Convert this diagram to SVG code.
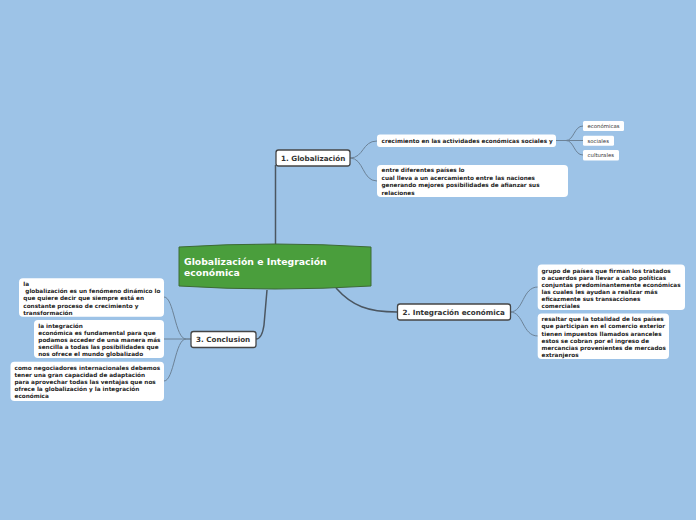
<svg xmlns="http://www.w3.org/2000/svg" width="696" height="520" viewBox="0 0 696 520">
<style>
.bg{fill:#9dc3e7}
.main{fill:#4a9e3c;stroke:#3d6a36;stroke-width:1}
.mt{font-family:"DejaVu Sans",Verdana,sans-serif;font-weight:bold;font-size:9.3px;fill:#ffffff}
.br{fill:#ffffff;stroke:#454545;stroke-width:1.3}
.bt{font-family:"DejaVu Sans",Verdana,sans-serif;font-weight:bold;font-size:7.2px;fill:#333333}
.note{fill:#ffffff}
.nt{font-family:"DejaVu Sans",Verdana,sans-serif;font-weight:bold;font-size:5.72px;fill:#222222}
.st{font-family:"DejaVu Sans",Verdana,sans-serif;font-size:5.4px;fill:#333333}
.c1{fill:none;stroke:#4b5661;stroke-width:1.5}
.c2{fill:none;stroke:#6c8297;stroke-width:1}
</style>
<rect class="bg" x="0" y="0" width="696" height="520"/>
<g id="connectors">
<path class="c1" d="M275.5,244 V165"/>
<path class="c1" d="M267,290 L264,325 Q262,339 256,339"/>
<path class="c1" d="M336,288 C352,306 368,312 397,312"/>
<path class="c2" d="M350,158 C364,158 362,141 377,141"/>
<path class="c2" d="M350,158 C364,158 362,181 377,181"/>
<path class="c2" d="M556,140.5 L566,140.5 C574,140.5 574,126 583,126"/>
<path class="c2" d="M556,140.5 L583,140.5"/>
<path class="c2" d="M556,140.5 L566,140.5 C574,140.5 574,155 583,155"/>
<path class="c2" d="M510,312 C524,312 522,287 538,287"/>
<path class="c2" d="M510,312 C524,312 522,336 538,336"/>
<path class="c2" d="M191,339 L186,339 C175,339 174,297 164,297"/>
<path class="c2" d="M191,339 L164,339"/>
<path class="c2" d="M186,339 C175,339 174,381 164,381"/>
</g>
<g id="central">
<path class="main" d="M179,247 Q275,241 371,247 L371,286 Q275,292 179,286 Z"/>
<text class="mt" x="184" y="264.5">Globalización e Integración</text>
<text class="mt" x="184" y="275.8">económica</text>
</g>
<g id="n1">
<rect class="br" x="276" y="150" width="74" height="16" rx="2.5"/>
<text class="bt" x="281" y="160.8">1. Globalización</text>
</g>
<g id="n1a">
<rect class="note" x="377" y="134.5" width="179" height="12.5" rx="3"/>
<text class="nt" x="381.5" y="142.6">crecimiento en las actividades económicas sociales y</text>
</g>
<g id="n1a1">
<rect class="note" x="583" y="121" width="41" height="10" rx="1.5"/>
<text class="st" x="587.5" y="127.8">económicas</text>
</g>
<g id="n1a2">
<rect class="note" x="583" y="135.7" width="31" height="10" rx="1.5"/>
<text class="st" x="587.5" y="142.5">sociales</text>
</g>
<g id="n1a3">
<rect class="note" x="583" y="150" width="36" height="10.5" rx="1.5"/>
<text class="st" x="587.5" y="157.2">culturales</text>
</g>
<g id="n1b">
<rect class="note" x="377" y="165" width="191" height="32" rx="4"/>
<text class="nt" x="381.5" y="172.2">entre diferentes países lo</text>
<text class="nt" x="381.5" y="179.7">cual lleva a un acercamiento entre las naciones</text>
<text class="nt" x="381.5" y="187.2">generando mejores posibilidades de afianzar sus</text>
<text class="nt" x="381.5" y="194.5">relaciones</text>
</g>
<g id="n2">
<rect class="br" x="397.5" y="304" width="113" height="16" rx="2.5"/>
<text class="bt" x="402.5" y="314.9">2. Integración económica</text>
</g>
<g id="n2a">
<rect class="note" x="537.7" y="264.5" width="147.3" height="45.5" rx="4"/>
<text class="nt" x="541.5" y="273">grupo de países que firman los tratados</text>
<text class="nt" x="541.5" y="280.2">o acuerdos para llevar a cabo políticas</text>
<text class="nt" x="541.5" y="287.4">conjuntas predominantemente económicas</text>
<text class="nt" x="541.5" y="294.4">las cuales les ayudan a realizar más</text>
<text class="nt" x="541.5" y="301.2">eficazmente sus transacciones</text>
<text class="nt" x="541.5" y="307.9">comerciales</text>
</g>
<g id="n2b">
<rect class="note" x="537.7" y="313.5" width="131.3" height="45.5" rx="4"/>
<text class="nt" x="541.5" y="321.3">resaltar que la totalidad de los países</text>
<text class="nt" x="541.5" y="328.4">que participan en el comercio exterior</text>
<text class="nt" x="541.5" y="335.5">tienen impuestos llamados aranceles</text>
<text class="nt" x="541.5" y="342.6">estos se cobran por el ingreso de</text>
<text class="nt" x="541.5" y="349.7">mercancias provenientes de mercados</text>
<text class="nt" x="541.5" y="356.5">extranjeros</text>
</g>
<g id="n3">
<rect class="br" x="191" y="331.5" width="65" height="16" rx="2.5"/>
<text class="bt" x="196" y="342.2">3. Conclusion</text>
</g>
<g id="n3a">
<rect class="note" x="19" y="278.3" width="145" height="38.4" rx="4"/>
<text class="nt" x="23.3" y="286">la</text>
<text class="nt" x="23.3" y="293.2" xml:space="preserve"> globalización es un fenómeno dinámico lo</text>
<text class="nt" x="23.3" y="300.4">que quiere decir que siempre está en</text>
<text class="nt" x="23.3" y="307.6">constante proceso de crecimiento y</text>
<text class="nt" x="23.3" y="314.6">transformación</text>
</g>
<g id="n3b">
<rect class="note" x="34" y="320" width="130" height="38" rx="4"/>
<text class="nt" x="38.3" y="328">la integración</text>
<text class="nt" x="38.3" y="335.2">económica es fundamental para que</text>
<text class="nt" x="38.3" y="342.4">podamos acceder de una manera más</text>
<text class="nt" x="38.3" y="349.4">sencilla a todas las posibilidades que</text>
<text class="nt" x="38.3" y="356.4">nos ofrece el mundo globalizado</text>
</g>
<g id="n3c">
<rect class="note" x="10.5" y="361.7" width="153.5" height="39.3" rx="4"/>
<text class="nt" x="14.5" y="370">como negociadores internacionales debemos</text>
<text class="nt" x="14.5" y="377.2">tener una gran capacidad de adaptación</text>
<text class="nt" x="14.5" y="384.4">para aprovechar todas las ventajas que nos</text>
<text class="nt" x="14.5" y="391.4">ofrece la globalización y la integración</text>
<text class="nt" x="14.5" y="398.4">económica</text>
</g>
</svg>
